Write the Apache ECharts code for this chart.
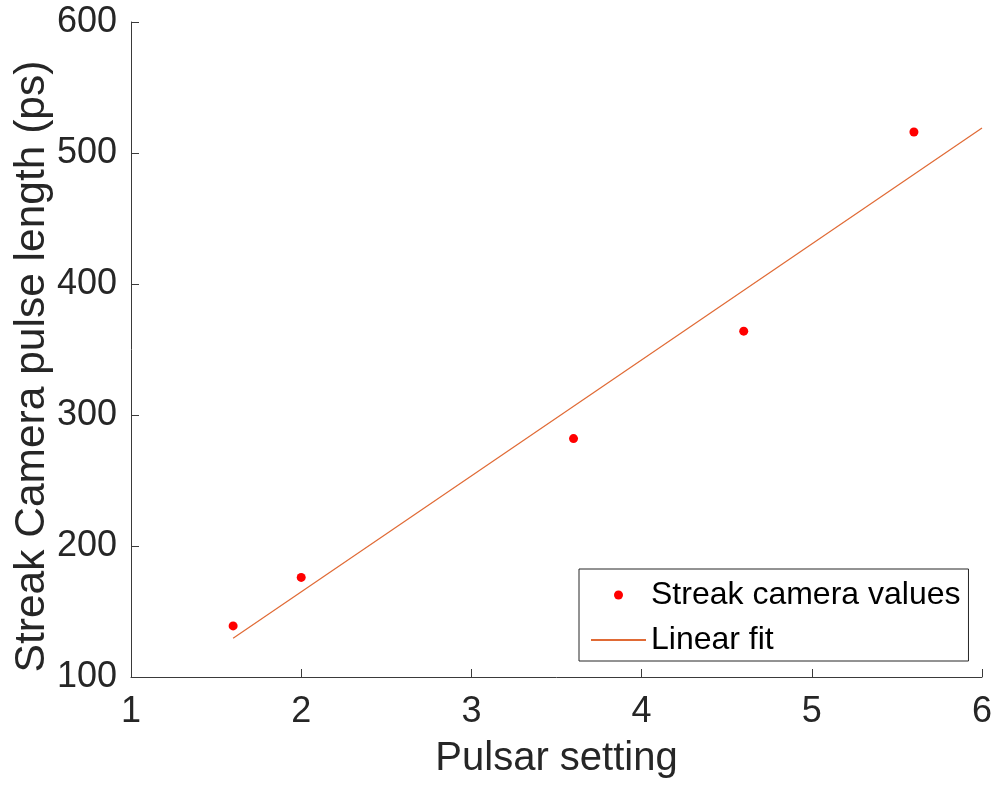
<!DOCTYPE html>
<html>
<head>
<meta charset="utf-8">
<script src="https://cdn.jsdelivr.net/npm/echarts@6/dist/echarts.min.js"></script>
<style>
  html, body { margin: 0; padding: 0; background: #fff; }
  #chart { width: 993px; height: 787px; }
</style>
</head>
<body>
<div id="chart"></div>
<script>
// Measured streak camera pulse lengths for each pulsar setting
const pulsarSetting = [1.6, 2.0, 3.6, 4.6, 5.6];
const pulseLength = [139, 176, 282, 364, 516];

// End points of the linear fit line
const fitX = [1.6, 6.0];
const fitY = [129.5, 519];

// Axis ranges and ticks
const xTicks = [1, 2, 3, 4, 5, 6];
const yTicks = [100, 200, 300, 400, 500, 600];

const FONT = '"Liberation Sans", Arial, Helvetica, sans-serif';
const AXIS_COLOR = '#3a3a3a';
const TEXT_COLOR = '#262626';
const FIT_COLOR = '#e06a35';

const chart = echarts.init(document.getElementById('chart'), null, { renderer: 'canvas' });

const axisCommon = {
  axisLine: { show: true, onZero: false, lineStyle: { color: AXIS_COLOR, width: 1 } },
  axisTick: { show: true, inside: true, length: 8, lineStyle: { color: AXIS_COLOR, width: 1 } },
  splitLine: { show: false },
  nameLocation: 'middle',
  nameMoveOverlap: false
};

chart.setOption({
  animation: false,
  backgroundColor: '#ffffff',
  grid: {
    left: 131, right: 11, top: 22, bottom: 110,
    containLabel: false,
    outerBoundsMode: 'none'
  },
  xAxis: Object.assign({}, axisCommon, {
    type: 'value',
    min: xTicks[0],
    max: xTicks[xTicks.length - 1],
    interval: 1,
    name: 'Pulsar setting',
    nameGap: 62,
    nameTextStyle: { fontFamily: FONT, fontSize: 40, color: TEXT_COLOR },
    axisLabel: { fontFamily: FONT, fontSize: 36, color: TEXT_COLOR, margin: 17 }
  }),
  yAxis: Object.assign({}, axisCommon, {
    type: 'value',
    min: yTicks[0],
    max: yTicks[yTicks.length - 1],
    interval: 100,
    name: 'Streak Camera pulse length (ps)',
    nameGap: 77,
    nameTextStyle: {
      fontFamily: FONT, fontSize: 42.5, color: TEXT_COLOR,
      padding: [0, 34, 0, 0]
    },
    axisLabel: { fontFamily: FONT, fontSize: 36, color: TEXT_COLOR, margin: 14 }
  }),
  legend: {
    orient: 'vertical',
    left: 579,
    top: 569,
    padding: [8, 8, 3, 11],
    itemGap: 9,
    itemWidth: 55,
    itemHeight: 9,
    borderColor: '#262626',
    borderWidth: 1,
    backgroundColor: '#ffffff',
    textStyle: { fontFamily: FONT, fontSize: 32, color: '#000000', lineHeight: 36 },
    data: [
      { name: 'Streak camera values' },
      { name: 'Linear fit', itemStyle: { color: 'rgba(0,0,0,0)', borderWidth: 0, opacity: 0 } }
    ]
  },
  series: [
    {
      name: 'Streak camera values',
      type: 'scatter',
      symbol: 'circle',
      symbolSize: 9,
      itemStyle: { color: '#ff0000', opacity: 1 },
      data: pulsarSetting.map((x, i) => [x, pulseLength[i]]),
      z: 3
    },
    {
      name: 'Linear fit',
      type: 'line',
      symbol: 'none',
      showSymbol: false,
      lineStyle: { color: FIT_COLOR, width: 1.2 },
      itemStyle: { color: FIT_COLOR },
      data: fitX.map((x, i) => [x, fitY[i]]),
      z: 2
    }
  ]
});
</script>
</body>
</html>
